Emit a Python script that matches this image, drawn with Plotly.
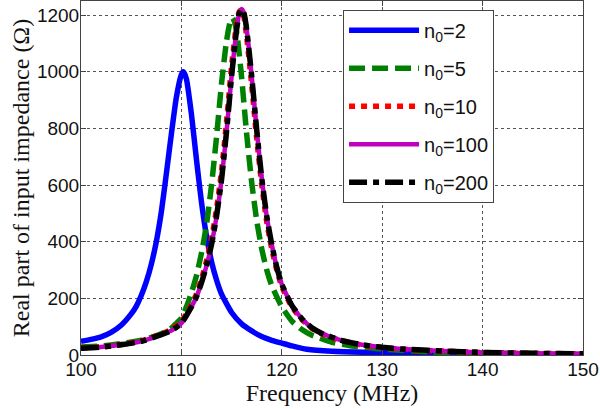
import plotly.graph_objects as go

# n0 = 2
f_n2 = [100, 101, 102, 103, 104, 105, 105.5, 106, 106.5, 107, 107.5, 108, 108.5,
        109, 109.5, 110, 110.2, 110.5, 111, 111.5, 112, 112.5, 113, 113.5, 114,
        115, 116, 117, 118, 119, 120, 121, 122.5, 125, 130, 135, 140, 145, 150]
z_n2 = [48, 55, 64, 80, 105, 145, 172, 210, 258, 320, 400, 505, 640,
        780, 910, 990, 1000, 975, 850, 690, 540, 420, 330, 265, 215,
        150, 110, 85, 65, 52, 42, 32, 20, 13, 8, 5, 3, 2, 2]

# n0 = 5
f_n5 = [100, 102, 104, 106, 107, 108, 109, 110, 110.5, 111, 111.5, 112, 112.5,
        113, 113.5, 114, 114.5, 114.85, 115.1, 115.35, 115.6, 116, 116.5, 117,
        117.5, 118, 118.5, 119, 120, 121, 122, 123, 125, 127, 130, 135, 140, 145]
z_n5 = [28, 32, 40, 52, 62, 75, 95, 130, 170, 220, 280, 360, 460,
        600, 770, 960, 1110, 1175, 1190, 1170, 1115, 980, 780, 610,
        475, 375, 300, 245, 170, 120, 90, 70, 45, 32, 21, 11, 7, 5]

# n0 = 10
f_n10 = [100, 102, 104, 106, 108, 109, 110, 111, 111.5, 112, 112.5, 113, 113.5,
         114, 114.5, 115, 115.5, 115.75, 116, 116.25, 116.5, 117, 117.5, 118,
         118.5, 119, 119.5, 120, 121, 122, 123, 124, 126, 128, 130, 132, 136,
         140, 145, 150]
z_n10 = [25, 29, 37, 50, 74, 90, 118, 178, 215, 268, 332, 410, 515,
         650, 825, 1020, 1170, 1212, 1218, 1190, 1125, 955, 765, 602,
         470, 375, 300, 242, 170, 125, 94, 74, 50, 35, 26, 20, 14,
         9, 6, 4]

# n0 = 100
f_n100 = [100, 102, 104, 106, 108, 109, 110, 111, 111.5, 112, 112.5, 113, 113.5,
          114, 114.5, 115, 115.5, 115.75, 116, 116.25, 116.5, 117, 117.5, 118,
          118.5, 119, 119.5, 120, 121, 122, 123, 124, 126, 128, 130, 132, 136,
          140, 145, 150]
z_n100 = [24, 28, 36, 48, 72, 86, 112, 170, 205, 255, 315, 390, 490,
          620, 790, 985, 1150, 1205, 1222, 1205, 1150, 985, 795, 625,
          490, 390, 310, 250, 175, 128, 96, 76, 51, 36, 27, 21, 14,
          9, 6, 4]

# n0 = 200
f_n200 = [100, 102, 104, 106, 108, 109, 110, 111, 111.5, 112, 112.5, 113, 113.5,
          114, 114.5, 115, 115.5, 115.75, 116, 116.25, 116.5, 117, 117.5, 118,
          118.5, 119, 119.5, 120, 121, 122, 123, 124, 126, 128, 130, 132, 136,
          140, 145, 150]
z_n200 = [24, 28, 36, 48, 72, 86, 112, 170, 205, 255, 315, 390, 490,
          620, 790, 985, 1150, 1205, 1222, 1205, 1150, 985, 795, 625,
          490, 390, 310, 250, 175, 128, 96, 76, 51, 36, 27, 21, 14,
          9, 6, 4]

x_ticks = [100, 110, 120, 130, 140, 150]
y_ticks = [0, 200, 400, 600, 800, 1000, 1200]

series = [
    (f_n2, z_n2, 'n<sub>0</sub>=2', '#0000FF', 'solid', 5.5),
    (f_n5, z_n5, 'n<sub>0</sub>=5', '#008000', '16px,7px', 5.5),
    (f_n10, z_n10, 'n<sub>0</sub>=10', '#FF0000', '6px,6px', 5.5),
    (f_n100, z_n100, 'n<sub>0</sub>=100', '#BF00BF', 'solid', 4.5),
    (f_n200, z_n200, 'n<sub>0</sub>=200', '#000000', '18px,6px,6px,6px', 5.5),
]

fig = go.Figure()
for i, (f, z, name, color, dash, w) in enumerate(series):
    fig.add_trace(go.Scatter(
        x=f, y=z, name=name, mode='lines', legendgroup=str(i),
        line=dict(color=color, width=w, dash=dash, shape='spline', smoothing=0.5),
    ))

axis_common = dict(
    showline=True, linecolor='#444', linewidth=1, mirror='ticks',
    ticks='inside', ticklen=5, tickcolor='#444',
    showgrid=True, gridcolor='#555', griddash='dot', gridwidth=1,
    zeroline=False, ticklabelstandoff=-3,
    tickfont=dict(family='Liberation Sans, Arial', size=19, color='#111'),
)

fig.update_layout(
    width=600, height=409,
    margin=dict(l=81, r=17, t=1, b=54),
    plot_bgcolor='white', paper_bgcolor='white',
    xaxis=dict(range=[100, 150], tickvals=x_ticks,
               title=dict(text='Frequency (MHz)', standoff=0,
                          font=dict(family='Liberation Serif, Times New Roman', size=24, color='#111')),
               **axis_common),
    yaxis=dict(range=[0, 1250], tickvals=y_ticks,
               title=dict(text='Real part of input impedance (Ω)', standoff=0,
                          font=dict(family='Liberation Serif, Times New Roman', size=24, color='#111')),
               **axis_common),
    legend=dict(x=0.522, y=0.975, xanchor='left', yanchor='top',
                bgcolor='white', bordercolor='#444', borderwidth=1,
                font=dict(family='Liberation Sans, Arial', size=20, color='#111'),
                tracegroupgap=9, itemwidth=70),
    showlegend=True,
)

fig.write_html("out.html", config={'displayModeBar': False},
               post_script="document.body.style.margin='0';")
